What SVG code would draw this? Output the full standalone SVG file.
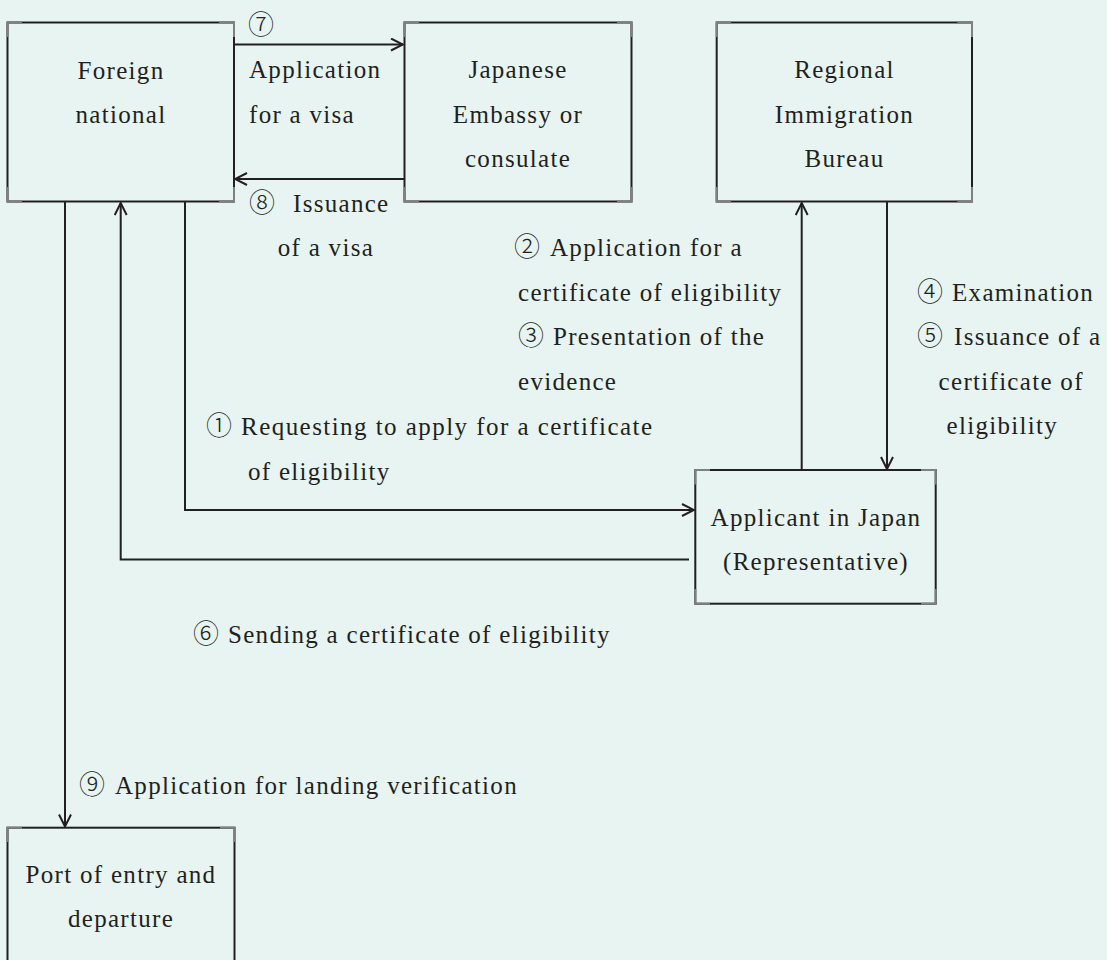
<svg xmlns="http://www.w3.org/2000/svg" width="1107" height="960" viewBox="0 0 1107 960">
  <style>
    .box { fill: #e7f4f2; stroke: #231f20; stroke-width: 2; }
    .corner { fill: none; stroke: #808080; stroke-width: 2; }
    .link { fill: none; stroke: #231f20; stroke-width: 2; }
    text { font-family: "Liberation Serif", "Times New Roman", "Noto Sans CJK JP", serif; font-size: 25px; fill: #231f20; letter-spacing: 1.3px; }
    .c { text-anchor: middle; }
    .n { font-family: "Noto Sans CJK JP", "DejaVu Sans", sans-serif; font-weight: 300; letter-spacing: 0; font-size: 26px; }
  </style>
  <defs>
    <marker id="arrow" viewBox="0 0 14 14" refX="13" refY="7" markerWidth="14" markerHeight="14" markerUnits="userSpaceOnUse" orient="auto">
      <path d="M1,1 L13,7 L1,13" fill="none" stroke="#231f20" stroke-width="2"/>
    </marker>
  </defs>
  <rect width="1107" height="960" fill="#e7f4f2"/>

  <!-- connectors -->
  <g id="connectors">
    <path class="link" d="M234,44.5 H403" marker-end="url(#arrow)"/>
    <path class="link" d="M404,179 H235" marker-end="url(#arrow)"/>
    <path class="link" d="M185,202 V510 H694" marker-end="url(#arrow)"/>
    <path class="link" d="M689,559.5 H120.7 V203" marker-end="url(#arrow)"/>
    <path class="link" d="M65,202 V826.5" marker-end="url(#arrow)"/>
    <path class="link" d="M801.7,470 V203" marker-end="url(#arrow)"/>
    <path class="link" d="M887,202 V469" marker-end="url(#arrow)"/>
  </g>

  <!-- nodes -->
  <g id="foreign-national">
    <rect class="box" x="7.5" y="22.5" width="226.5" height="179"/>
    <path class="corner" d="M7.5,37 V22.5 H22 M219,22.5 H234 V37 M234,187 V201.5 H219 M22,201.5 H7.5 V187"/>
    <text class="c" x="121" y="78.5">Foreign</text>
    <text class="c" x="121" y="123.3">national</text>
  </g>

  <g id="embassy">
    <rect class="box" x="404.5" y="22.5" width="227" height="179"/>
    <path class="corner" d="M404.5,37 V22.5 H419 M617,22.5 H631.5 V37 M631.5,187 V201.5 H617 M419,201.5 H404.5 V187"/>
    <text class="c" x="518" y="78.3">Japanese</text>
    <text class="c" x="518" y="123.3">Embassy or</text>
    <text class="c" x="518" y="166.7">consulate</text>
  </g>

  <g id="immigration-bureau">
    <rect class="box" x="716.7" y="22.5" width="255.3" height="179"/>
    <path class="corner" d="M716.7,37 V22.5 H731 M957.5,22.5 H972 V37 M972,187 V201.5 H957.5 M731,201.5 H716.7 V187"/>
    <text class="c" x="844.5" y="78">Regional</text>
    <text class="c" x="844.5" y="123">Immigration</text>
    <text class="c" x="844.5" y="167">Bureau</text>
  </g>

  <g id="applicant">
    <rect class="box" x="695.3" y="470" width="240.4" height="133.7"/>
    <path class="corner" d="M695.3,484.5 V470 H710 M921,470 H935.7 V484.5 M935.7,589 V603.7 H921 M710,603.7 H695.3 V589"/>
    <text class="c" x="816" y="526">Applicant in Japan</text>
    <text class="c" x="816" y="570">(Representative)</text>
  </g>

  <g id="port">
    <rect class="box" x="7.5" y="827.7" width="227" height="160"/>
    <path class="corner" d="M7.5,842 V827.7 H22 M220,827.7 H234.5 V842"/>
    <text class="c" x="121" y="883">Port of entry and</text>
    <text class="c" x="121" y="927">departure</text>
  </g>

  <!-- step labels -->
  <g id="labels">
    <text x="248" y="34"><tspan class="n">⑦</tspan></text>
    <text x="249" y="78">Application</text>
    <text x="249" y="123">for a visa</text>

    <text x="249" y="211.7"><tspan class="n">⑧</tspan><tspan dx="18">Issuance</tspan></text>
    <text x="277.7" y="256">of a visa</text>

    <text x="514" y="256"><tspan class="n">②</tspan><tspan dx="10">Application for a</tspan></text>
    <text x="518" y="300.5">certificate of eligibility</text>
    <text x="518" y="345"><tspan class="n">③</tspan><tspan dx="9">Presentation of the</tspan></text>
    <text x="518" y="389.5">evidence</text>

    <text x="917" y="300.5"><tspan class="n">④</tspan><tspan dx="9">Examination</tspan></text>
    <text x="917" y="345"><tspan class="n">⑤</tspan><tspan dx="11">Issuance of a</tspan></text>
    <text x="938.6" y="389.5">certificate of</text>
    <text x="946.5" y="434">eligibility</text>

    <text x="206" y="435"><tspan class="n">①</tspan><tspan dx="9" style="letter-spacing:1.45px">Requesting to apply for a certificate</tspan></text>
    <text x="248" y="480">of eligibility</text>

    <text x="193" y="643"><tspan class="n">⑥</tspan><tspan dx="9">Sending a certificate of eligibility</tspan></text>

    <text x="79" y="794"><tspan class="n">⑨</tspan><tspan dx="10">Application for landing verification</tspan></text>
  </g>
</svg>
